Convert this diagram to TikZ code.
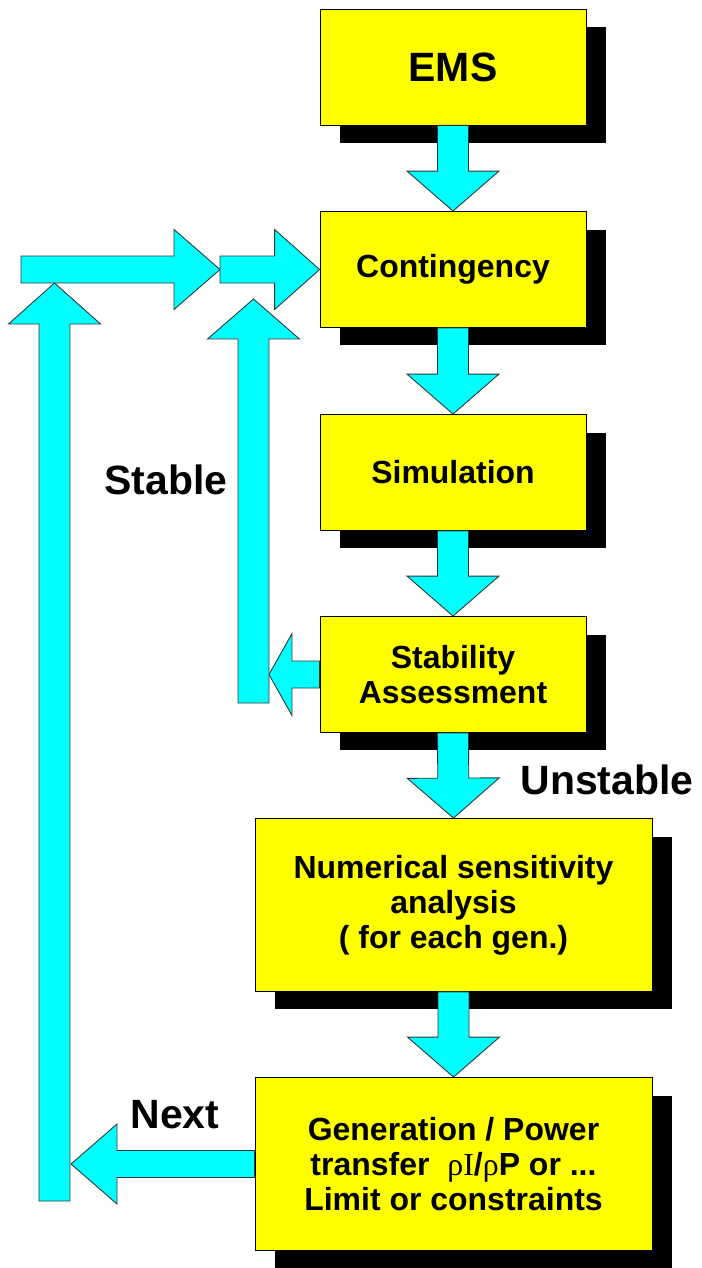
\documentclass[tikz,border=0pt]{standalone}
\usepackage{fontspec}
\setmainfont{Liberation Sans}
\newfontfamily\symfont{Liberation Serif}
\usetikzlibrary{calc,shadows}

\definecolor{boxyellow}{RGB}{255,255,0}
\definecolor{arrowcyan}{RGB}{0,255,255}

% block arrow: start, tip, shaft half width, head half width, head length
\newcommand{\blockarrow}[5]{%
  \coordinate (ba_s) at (#1);
  \coordinate (ba_e) at (#2);
  \coordinate (ba_h) at ($(ba_e)!#5!(ba_s)$);
  \filldraw[barrow]
    ($(ba_s)!#3!90:(ba_e)$) -- ($(ba_h)!#3!90:(ba_e)$) --
    ($(ba_h)!#4!90:(ba_e)$) -- (ba_e) --
    ($(ba_h)!#4!-90:(ba_e)$) -- ($(ba_h)!#3!-90:(ba_e)$) --
    ($(ba_s)!#3!-90:(ba_e)$) -- cycle;}

\begin{document}
\begin{tikzpicture}[x=0.02cm, y=-0.02cm,
  every node/.style={font=\fontsize{18.2}{19.9}\selectfont\bfseries},
  box/.style={draw=black, line width=0.5pt, fill=boxyellow, align=center,
              minimum width=5.32cm, minimum height=2.32cm, inner sep=0pt,
              drop shadow={shadow xshift=0.4cm, shadow yshift=-0.36cm,
                           fill=black, opacity=1}},
  widebox/.style={box, minimum width=7.94cm, minimum height=3.46cm},
  barrow/.style={fill=arrowcyan, draw=black!80, line width=0.5pt},
  tag/.style={font=\fontsize{23.3}{28}\selectfont\bfseries}]

  \useasboundingbox (0,0) rectangle (701,1268);

  %% ─── Main chain ─────────────────────────────────────────────────────────
  \node[box, font=\fontsize{23.3}{28}\selectfont\bfseries] (fl_ems) at (453,67) {EMS};
  \node[box]     (fl_cont) at (453,269.5) {Contingency};
  \node[box]     (fl_sim)  at (453,472.5) {Simulation};
  \node[box]     (fl_stab) at (453,674.5) {Stability\\Assessment};
  \node[widebox] (fl_sens) at (453.5,905) {Numerical sensitivity\\analysis\\( for each gen.)};
  \node[widebox] (fl_gen)  at (453.5,1164)
    {Generation / Power\\transfer\ \ {\symfont\mdseries ρI}/{\symfont\mdseries ρ}P or ...\\Limit or constraints};

  \blockarrow{fl_ems.south}{fl_cont.north}{0.31cm}{0.92cm}{0.8cm}
  \blockarrow{fl_cont.south}{fl_sim.north}{0.31cm}{0.92cm}{0.8cm}
  \blockarrow{fl_sim.south}{fl_stab.north}{0.31cm}{0.92cm}{0.8cm}
  \blockarrow{fl_stab.south}{fl_sens.north}{0.31cm}{0.92cm}{0.8cm}
  \blockarrow{fl_sens.south}{fl_gen.north}{0.31cm}{0.92cm}{0.8cm}

  %% ─── Feedback loops ─────────────────────────────────────────────────────
  \coordinate (stab_tip)   at (269,674.5);
  \coordinate (stable_bot) at (253.5,703);
  \coordinate (stable_top) at (253.5,299);
  \coordinate (next_tip)   at (71,1164);
  \coordinate (next_bot)   at (54.5,1201);
  \coordinate (next_top)   at (54.5,283);
  \coordinate (feed_start) at (21,269.5);
  \coordinate (feed_mid)   at (220,269.5);

  \blockarrow{fl_stab.west}{stab_tip}{0.27cm}{0.82cm}{0.46cm}
  \blockarrow{stable_bot}{stable_top}{0.31cm}{0.92cm}{0.8cm}
  \blockarrow{fl_gen.west}{next_tip}{0.27cm}{0.8cm}{0.92cm}
  \blockarrow{next_bot}{next_top}{0.31cm}{0.92cm}{0.82cm}
  \blockarrow{feed_start}{feed_mid}{0.27cm}{0.8cm}{0.92cm}
  \blockarrow{feed_mid}{fl_cont.west}{0.27cm}{0.8cm}{0.9cm}

  %% ─── Labels ─────────────────────────────────────────────────────────────
  \node[tag] (lb_stable)   at (166,480)  {Stable};
  \node[tag] (lb_unstable) at (607,780)  {Unstable};
  \node[tag] (lb_next)     at (175,1115) {Next};
\end{tikzpicture}
\end{document}
